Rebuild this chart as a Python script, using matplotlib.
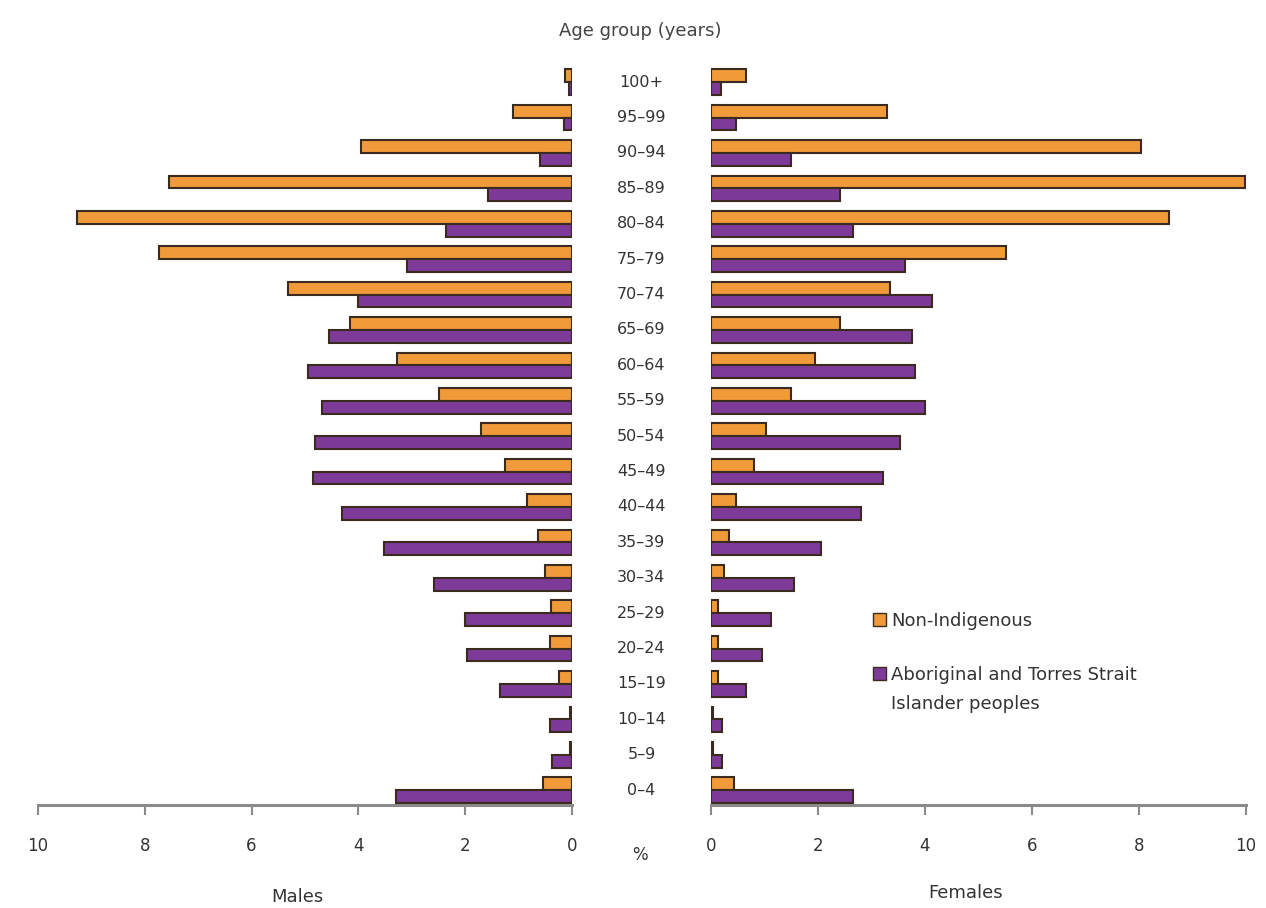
import matplotlib.pyplot as plt
from matplotlib.patches import Patch
import numpy as np

age_groups = ['0–4', '5–9', '10–14', '15–19', '20–24', '25–29', '30–34', '35–39',
              '40–44', '45–49', '50–54', '55–59', '60–64', '65–69', '70–74',
              '75–79', '80–84', '85–89', '90–94', '95–99', '100+']

# per cent of deaths in each age group, youngest first
males_non_indig = [0.55, 0.03, 0.03, 0.24, 0.42, 0.40, 0.50, 0.64, 0.84, 1.25, 1.70,
                   2.49, 3.28, 4.16, 5.32, 7.73, 9.26, 7.55, 3.95, 1.10, 0.13]
males_indig = [3.30, 0.37, 0.42, 1.35, 1.96, 2.00, 2.59, 3.52, 4.31, 4.85, 4.81,
               4.68, 4.95, 4.55, 4.00, 3.09, 2.36, 1.57, 0.60, 0.15, 0.06]
females_non_indig = [0.43, 0.04, 0.04, 0.13, 0.13, 0.13, 0.24, 0.33, 0.47, 0.80, 1.03,
                     1.50, 1.95, 2.41, 3.34, 5.51, 8.57, 9.99, 8.04, 3.29, 0.65]
females_indig = [2.65, 0.21, 0.21, 0.66, 0.95, 1.12, 1.55, 2.06, 2.80, 3.21, 3.54,
                 4.00, 3.81, 3.76, 4.13, 3.62, 2.65, 2.41, 1.50, 0.47, 0.19]

orange = '#F09A3A'
purple = '#7E3A98'
edge = '#3a2a20'
grey = '#8a8a8a'

plt.rcParams['font.family'] = ['DejaVu Sans']
fig = plt.figure(figsize=(12.66, 9.08), dpi=100)

ax_m = fig.add_axes([0.030, 0.1134, 0.4218, 0.8156])
ax_f = fig.add_axes([0.5616, 0.1134, 0.4226, 0.8156])

y = np.arange(len(age_groups))
h = 0.36

for ax, non_ind, ind in [(ax_m, males_non_indig, males_indig),
                         (ax_f, females_non_indig, females_indig)]:
    ax.barh(y + h / 2, non_ind, height=h, color=orange, edgecolor=edge, linewidth=1.5)
    ax.barh(y - h / 2, ind, height=h, color=purple, edgecolor=edge, linewidth=1.5)
    ax.set_xlim(0, 10)
    ax.set_ylim(-0.42, 20.5)
    ax.set_xticks(np.arange(0, 11, 2))
    ax.set_yticks([])
    for s in ['top', 'left', 'right']:
        ax.spines[s].set_visible(False)
    ax.spines['bottom'].set_color(grey)
    ax.spines['bottom'].set_linewidth(2.2)
    ax.tick_params(axis='x', direction='out', length=7, width=1.5, color=grey,
                   pad=16, labelsize=12, labelcolor='#333333')

ax_m.invert_xaxis()

# age group labels down the centre
for i, lab in enumerate(age_groups):
    ax_m.annotate(lab, xy=(0, i), xycoords='data', xytext=(50, 0),
                  textcoords='offset points', ha='center', va='center',
                  fontsize=11.5, color='#333333')

fig.text(0.5055, 0.966, 'Age group (years)', ha='center', va='center',
         fontsize=13, color='#444444')
fig.text(0.5055, 0.058, '%', ha='center', va='center', fontsize=12, color='#333333')
fig.text(0.235, 0.012, 'Males', ha='center', va='center', fontsize=13, color='#333333')
fig.text(0.763, 0.0165, 'Females', ha='center', va='center', fontsize=13, color='#333333')

# legend: marker sits beside the first line of the second label
handles = [Patch(facecolor=orange, edgecolor=edge, label='Non-Indigenous'),
           Patch(facecolor=purple, edgecolor=edge, label='Aboriginal and Torres Strait')]
leg = fig.legend(handles=handles, loc='upper left', bbox_to_anchor=(0.677, 0.344),
                 frameon=False, fontsize=13, handlelength=0.7, handleheight=0.7,
                 handletextpad=0.3, labelspacing=2.0, labelcolor='#333333')
fig.canvas.draw()
t = leg.get_texts()[1].get_window_extent()
x0, y0 = fig.transFigure.inverted().transform((t.x0, t.y0))
fig.text(x0, y0 - 0.012, 'Islander peoples', ha='left', va='top',
         fontsize=13, color='#333333')

fig.savefig('out.png', dpi=100)
